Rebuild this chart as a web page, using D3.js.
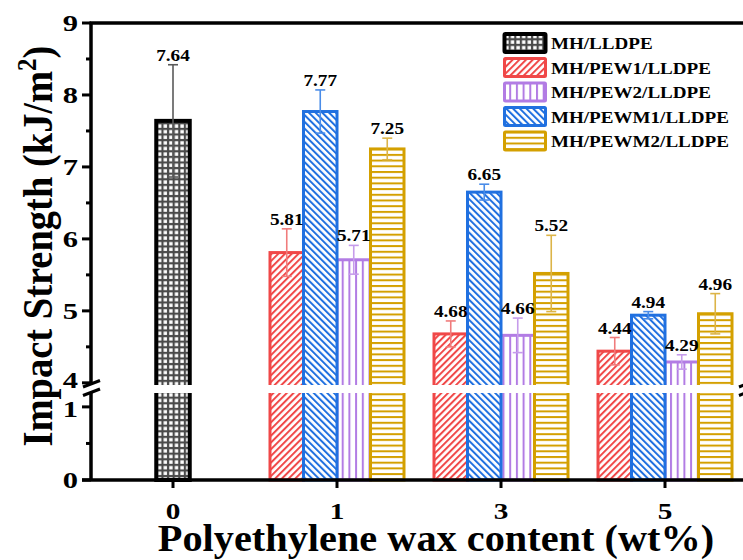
<!DOCTYPE html>
<html>
<head>
<meta charset="utf-8">
<script src="https://cdn.jsdelivr.net/npm/d3@7"></script>
<style>
  html, body { margin: 0; padding: 0; background: #fff; overflow: hidden; }
  text { font-family: "Liberation Serif", "Times New Roman", serif; font-weight: bold; fill: #000; }
</style>
</head>
<body>
<svg id="chart" width="743" height="560"></svg>
<script>
// ---- data ----
const groups = ["0", "1", "3", "5"];
const seriesNames = ["MH/LLDPE", "MH/PEW1/LLDPE", "MH/PEW2/LLDPE", "MH/PEWM1/LLDPE", "MH/PEWM2/LLDPE"];
const barSlots = ["MH/PEW1/LLDPE", "MH/PEWM1/LLDPE", "MH/PEW2/LLDPE", "MH/PEWM2/LLDPE"];
const groupsLLDPE = ["0"];
const valLLDPE = [7.64];
const errLLDPE = [0.78];
const groupsWax = ["1", "3", "5"];
const valPEW1 = [5.81, 4.68, 4.44];
const errPEW1 = [0.33, 0.18, 0.19];
const valPEW2 = [5.71, 4.66, 4.29];
const errPEW2 = [0.20, 0.24, 0.10];
const valPEWM1 = [7.77, 6.65, 4.94];
const errPEWM1 = [0.30, 0.11, 0.05];
const valPEWM2 = [7.25, 5.52, 4.96];
const errPEWM2 = [0.15, 0.53, 0.28];
const upperTicks = [4, 5, 6, 7, 8, 9];
const upperMinor = [4.5, 5.5, 6.5, 7.5, 8.5];
const lowerTicks = [0, 1];
const lowerMinor = [0.5];

const colors = {
  "MH/LLDPE":       { line: "#000000", fill: "#4a4a4a", err: "#5a5a5a", pat: "grid" },
  "MH/PEW1/LLDPE":  { line: "#f04848", fill: "#f04848", err: "#f07c7c", pat: "fwd" },
  "MH/PEW2/LLDPE":  { line: "#b27ce4", fill: "#b27ce4", err: "#c69ceb", pat: "vert" },
  "MH/PEWM1/LLDPE": { line: "#2070e0", fill: "#2070e0", err: "#4a8ce8", pat: "back" },
  "MH/PEWM2/LLDPE": { line: "#d4a000", fill: "#d4a000", err: "#dcb448", pat: "horiz" }
};

// records per series
const seriesData = [
  { name: "MH/LLDPE", rows: groupsLLDPE.map((g, i) => ({ g, v: valLLDPE[i], e: errLLDPE[i] })) },
  { name: "MH/PEW1/LLDPE", rows: groupsWax.map((g, i) => ({ g, v: valPEW1[i], e: errPEW1[i] })) },
  { name: "MH/PEW2/LLDPE", rows: groupsWax.map((g, i) => ({ g, v: valPEW2[i], e: errPEW2[i] })) },
  { name: "MH/PEWM1/LLDPE", rows: groupsWax.map((g, i) => ({ g, v: valPEWM1[i], e: errPEWM1[i] })) },
  { name: "MH/PEWM2/LLDPE", rows: groupsWax.map((g, i) => ({ g, v: valPEWM2[i], e: errPEWM2[i] })) }
];

// ---- layout ----
const svg = d3.select("#chart");
const pL = 91, pR = 747, pT = 23, pB = 480;
const SX = 1.09; // horizontal text stretch

const x = d3.scaleBand().domain(groups).range([pL, pR]);
const barW = 33.5;
const slot = d3.scaleBand().domain(barSlots).range([-2 * barW, 2 * barW]);
const breakHi = 3.97, breakLo = 1.19;
const yTop = d3.scaleLinear().domain([breakHi, 9]).range([385, pT]);
const yBot = d3.scaleLinear().domain([0, breakLo]).range([pB, 393]);

function barX(name, g) {
  if (name === "MH/LLDPE") return x(g) + x.bandwidth() / 2 - barW / 2;
  return x(g) + x.bandwidth() / 2 + slot(name);
}

function txt(parent, px, py, s, size, anchor, sx) {
  return parent.append("text")
    .attr("transform", `translate(${px},${py}) scale(${sx},1)`)
    .attr("text-anchor", anchor)
    .style("font-size", size + "px")
    .text(s);
}

// ---- fill patterns ----
const defs = svg.append("defs");
function makePattern(id, c) {
  const key = c.pat;
  if (key === "grid") {
    const p = defs.append("pattern").attr("id", id).attr("patternUnits", "userSpaceOnUse")
      .attr("width", 5.6).attr("height", 5.6);
    p.append("rect").attr("width", 5.6).attr("height", 5.6).attr("fill", c.fill);
    p.append("rect").attr("x", 1.2).attr("y", 1.2).attr("width", 3.4).attr("height", 3.4).attr("fill", "#fff");
  } else if (key === "fwd" || key === "back") {
    const w = 4.75;
    const p = defs.append("pattern").attr("id", id).attr("patternUnits", "userSpaceOnUse")
      .attr("width", w).attr("height", w)
      .attr("patternTransform", key === "fwd" ? "rotate(45)" : "rotate(-45)");
    p.append("rect").attr("width", w).attr("height", w).attr("fill", "#fff");
    p.append("rect").attr("x", 0).attr("width", 2).attr("height", w).attr("fill", c.fill);
  } else if (key === "vert") {
    const w = 6.7;
    const p = defs.append("pattern").attr("id", id).attr("patternUnits", "userSpaceOnUse")
      .attr("width", w).attr("height", w);
    p.append("rect").attr("width", w).attr("height", w).attr("fill", "#fff");
    p.append("rect").attr("x", 0).attr("width", 2).attr("height", w).attr("fill", c.fill);
  } else {
    const h = 5.7;
    const p = defs.append("pattern").attr("id", id).attr("patternUnits", "userSpaceOnUse")
      .attr("width", h).attr("height", h);
    p.append("rect").attr("width", h).attr("height", h).attr("fill", "#fff");
    p.append("rect").attr("y", 0).attr("width", h).attr("height", 2).attr("fill", c.fill);
  }
}
seriesNames.forEach((n, i) => makePattern("pat" + i, colors[n]));

// ---- bars ----
const barsG = svg.append("g");
seriesData.forEach((s, i) => {
  const c = colors[s.name];
  barsG.selectAll(null).data(s.rows).enter().append("rect")
    .attr("x", d => barX(s.name, d.g))
    .attr("y", d => yTop(d.v))
    .attr("width", barW)
    .attr("height", d => yBot(0) - yTop(d.v))
    .attr("fill", `url(#pat${i})`)
    .attr("stroke", c.line)
    .attr("stroke-width", s.name === "MH/LLDPE" ? 4 : 3);
});

// white gap of the broken axis
svg.append("rect")
  .attr("x", pL + 2).attr("y", yTop(breakHi))
  .attr("width", pR - pL).attr("height", yBot(breakLo) - yTop(breakHi))
  .attr("fill", "#fff");

// ---- error bars & value labels ----
const errG = svg.append("g");
seriesData.forEach((s) => {
  const c = colors[s.name];
  s.rows.forEach(d => {
    const cx = barX(s.name, d.g) + barW / 2;
    const y1 = yTop(d.v + d.e), y2 = yTop(d.v - d.e);
    errG.append("line").attr("x1", cx).attr("x2", cx).attr("y1", y1).attr("y2", y2)
      .attr("stroke", c.err).attr("stroke-width", 1.6);
    [y1, y2].forEach(yy => errG.append("line")
      .attr("x1", cx - 5).attr("x2", cx + 5).attr("y1", yy).attr("y2", yy)
      .attr("stroke", c.err).attr("stroke-width", 1.6));
    txt(errG, cx, y1 - 4, d.v.toFixed(2), 17.5, "middle", 1.1);
  });
});

// ---- axes ----
const axG = svg.append("g").attr("stroke", "#000").attr("stroke-linecap", "butt");
axG.append("line").attr("x1", pL - 1.5).attr("x2", pR + 2).attr("y1", pT).attr("y2", pT).attr("stroke-width", 3.5);
axG.append("line").attr("x1", pL - 9).attr("x2", pR + 2).attr("y1", pB).attr("y2", pB).attr("stroke-width", 3.5);
[pL, pR].forEach(ax => {
  axG.append("line").attr("x1", ax).attr("x2", ax).attr("y1", pT).attr("y2", yTop(breakHi)).attr("stroke-width", 3.5);
  axG.append("line").attr("x1", ax).attr("x2", ax).attr("y1", yBot(breakLo)).attr("y2", pB).attr("stroke-width", 3.5);
  // break marks
  [0, 8.5].forEach(off => axG.append("line")
    .attr("x1", ax - 8).attr("y1", 387 + off).attr("x2", ax + 9).attr("y2", 380.5 + off)
    .attr("stroke-width", 3));
});
upperTicks.forEach(t => axG.append("line").attr("x1", pL - 9).attr("x2", pL).attr("y1", yTop(t)).attr("y2", yTop(t)).attr("stroke-width", 3));
upperMinor.forEach(t => axG.append("line").attr("x1", pL - 5).attr("x2", pL).attr("y1", yTop(t)).attr("y2", yTop(t)).attr("stroke-width", 3));
lowerTicks.forEach(t => axG.append("line").attr("x1", pL - 9).attr("x2", pL).attr("y1", yBot(t)).attr("y2", yBot(t)).attr("stroke-width", 3));
lowerMinor.forEach(t => axG.append("line").attr("x1", pL - 5).attr("x2", pL).attr("y1", yBot(t)).attr("y2", yBot(t)).attr("stroke-width", 3));
groups.forEach(g => {
  const cx = x(g) + x.bandwidth() / 2;
  axG.append("line").attr("x1", cx).attr("x2", cx).attr("y1", pB).attr("y2", pB + 8).attr("stroke-width", 3);
});

// tick labels
const tl = svg.append("g");
upperTicks.forEach(t => txt(tl, 78, yTop(t) + 8 + (t === 4 ? -2.5 : 0), String(t), 23.5, "end", 1.3));
lowerTicks.forEach(t => txt(tl, 78, yBot(t) + 8 + (t === 1 ? 2 : 0), String(t), 23.5, "end", 1.3));
groups.forEach(g => txt(tl, x(g) + x.bandwidth() / 2, 519, g, 22.5, "middle", 1.3));

// axis titles
txt(svg, 436, 551, "Polyethylene wax content (wt%)", 37, "middle", SX);
const yt = svg.append("text")
  .attr("transform", `translate(52,246) scale(${SX},1) rotate(-90)`)
  .attr("text-anchor", "middle")
  .style("font-size", "38.5px");
yt.append("tspan").text("Impact Strength (kJ/m");
yt.append("tspan").attr("dy", -15).style("font-size", "25px").text("2");
yt.append("tspan").attr("dy", 15).text(")");

// ---- legend ----
const lg = svg.append("g");
const rowY = d3.scalePoint().domain(seriesNames).range([43, 141]);
seriesNames.forEach((n, i) => {
  const c = colors[n];
  const cy = rowY(n);
  lg.append("rect").attr("x", 504.5).attr("y", cy - 9).attr("width", 41).attr("height", 18)
    .attr("fill", `url(#pat${i})`).attr("stroke", c.line).attr("stroke-width", n === "MH/LLDPE" ? 4 : 3)
    .attr("rx", 1);
  txt(lg, 551, cy + 6, n, 17.5, "start", SX);
});
</script>
</body>
</html>
